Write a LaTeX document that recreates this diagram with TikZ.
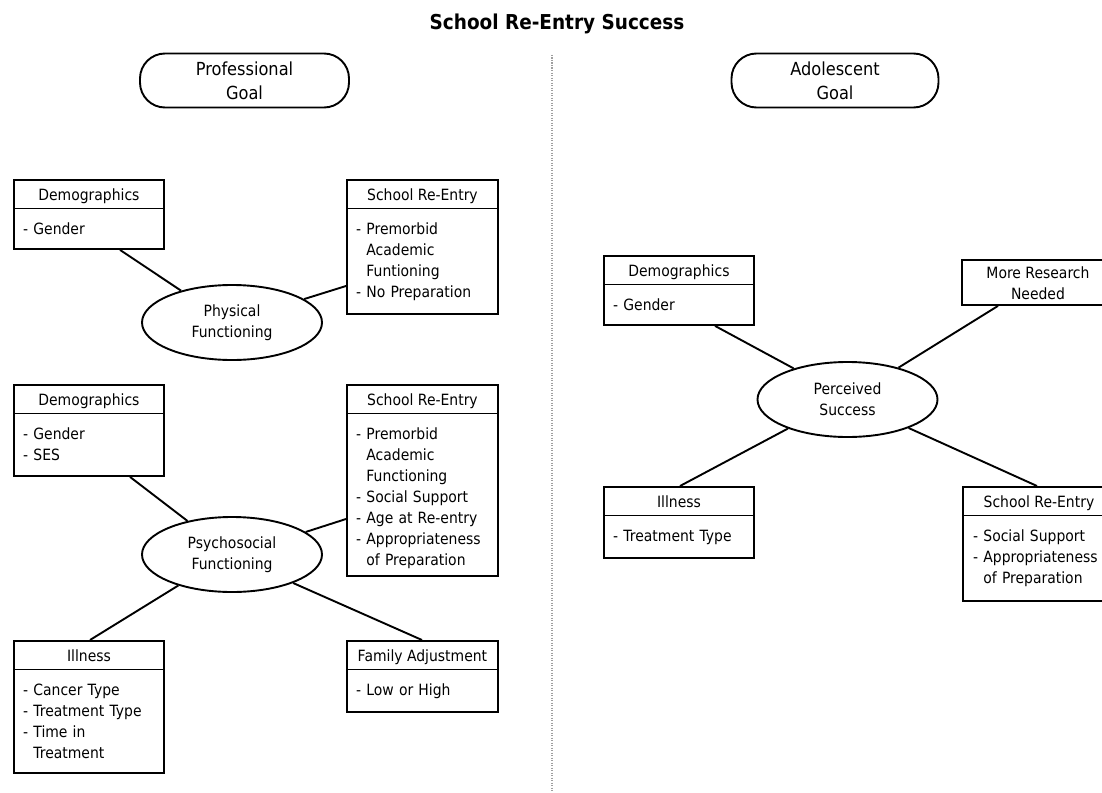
\documentclass[tikz,border=0pt]{standalone}
\usepackage{fontspec}
\setmainfont{DejaVu Sans}[FakeStretch=0.9]
\usetikzlibrary{calc,shapes.geometric}

% header/body box: name, left x, top y, width, height, header text
\newcommand\classbox[6]{%
  \node[umlbox, minimum width=#4pt, minimum height=#5pt] (#1) at (#2,#3) {};
  \draw[boxline] ($(#1.north west)+(0,29.5)$) -- ($(#1.north east)+(0,29.5)$);
  \node[hdr] (#1-head) at ($(#1.north)+(0,21.5)$) {#6};
}
\newcommand\indentline{\hphantom{- }}

\begin{document}
\begin{tikzpicture}[x=1pt,y=-1pt,
  bodyfont/.style={font=\fontsize{15.5}{21}\selectfont},
  boxline/.style={line width=1.9pt},
  umlbox/.style={draw, boxline, rectangle, anchor=north west, inner sep=0pt},
  hdr/.style={bodyfont, anchor=base, inner sep=0pt},
  items/.style={bodyfont, anchor=base west, inner sep=0pt, text width=150pt, align=left},
  hub/.style={draw, boxline, ellipse, minimum width=180pt, minimum height=75pt,
              inner sep=0pt, align=center, bodyfont},
  goal/.style={draw, boxline, rounded corners=25pt, minimum height=54pt,
               inner sep=0pt, align=center, font=\fontsize{18}{24}\selectfont},
  link/.style={line width=1.9pt},
  divider/.style={gray!75, line width=1.6pt, dash pattern=on 1.2pt off 1.3pt},
]
\useasboundingbox (0,0) rectangle (1102,792);
\clip (0,0) rectangle (1102,792);

% title and the dotted separator between the two halves
\node[font=\bfseries\fontsize{20.5}{24}\selectfont, anchor=base] (title) at (557,30) {School Re-Entry Success};
\coordinate (sepTop) at (552,55);
\coordinate (sepBot) at (552,792);
\draw[divider] (sepTop) -- (sepBot);

% goals
\node[goal, minimum width=209pt] (profGoal) at (244.5,80.5) {Professional\\Goal};
\node[goal, minimum width=207pt] (adolGoal) at (835,80.5) {Adolescent\\Goal};

% ---------- professional side: physical functioning ----------
\node[hub] (phys) at (232,322.5) {Physical\\Functioning};

\classbox{demoA}{13}{179}{150}{69}{Demographics}
\node[items] (demoA-list) at ($(demoA.north west)+(10,55)$) {- Gender};

\classbox{schoolA}{346}{179}{151}{134}{School Re-Entry}
\node[items] (schoolA-list) at ($(schoolA.north west)+(10,55)$)
  {- Premorbid\\\indentline Academic\\\indentline Funtioning\\- No Preparation};

\draw[link] ($(demoA.south west)+(107,0)$) -- (phys.148);
\draw[link] ($(schoolA.north west)+(0,107)$) -- (phys.18);

% ---------- professional side: psychosocial functioning ----------
\node[hub] (psych) at (232,554.5) {Psychosocial\\Functioning};

\classbox{demoB}{13}{384}{150}{91}{Demographics}
\node[items] (demoB-list) at ($(demoB.north west)+(10,55)$) {- Gender\\- SES};

\classbox{schoolB}{346}{384}{151}{191}{School Re-Entry}
\node[items] (schoolB-list) at ($(schoolB.north west)+(10,55)$)
  {- Premorbid\\\indentline Academic\\\indentline Functioning\\- Social Support\\- Age at Re-entry\\- Appropriateness\\\indentline of Preparation};

\classbox{illB}{13}{640}{150}{132}{Illness}
\node[items] (illB-list) at ($(illB.north west)+(10,55)$)
  {- Cancer Type\\- Treatment Type\\- Time in\\\indentline Treatment};

\classbox{famB}{346}{640}{151}{71}{Family Adjustment}
\node[items] (famB-list) at ($(famB.north west)+(10,55)$) {- Low or High};

\draw[link] ($(demoB.south west)+(117,0)$) -- (psych.143);
\draw[link] ($(schoolB.north west)+(0,135)$) -- (psych.17);
\draw[link] ($(illB.north west)+(77,0)$) -- (psych.210.4);
\draw[link] ($(famB.north west)+(76,0)$) -- (psych.335.5);

% ---------- adolescent side: perceived success ----------
\node[hub] (perc) at (847.5,399.5) {Perceived\\Success};

\classbox{demoC}{603}{255}{150}{69}{Demographics}
\node[items] (demoC-list) at ($(demoC.north west)+(10,55)$) {- Gender};

\node[umlbox, minimum width=152pt, minimum height=45pt] (research) at (961,259) {};
\node[bodyfont, align=center, inner sep=0pt] (research-text) at ($(research.center)+(0,1)$) {More Research\\Needed};

\classbox{illC}{603}{486}{150}{71}{Illness}
\node[items] (illC-list) at ($(illC.north west)+(10,55)$) {- Treatment Type};

\classbox{schoolC}{962}{486}{152}{114}{School Re-Entry}
\node[items] (schoolC-list) at ($(schoolC.north west)+(11,55)$)
  {- Social Support\\- Appropriateness\\\indentline of Preparation};

\draw[link] ($(demoC.south west)+(112,0)$) -- (perc.150.8);
\draw[link] ($(research.south west)+(37,0)$) -- (perc.32.4);
\draw[link] ($(illC.north west)+(77,0)$) -- (perc.206.4);
\draw[link] ($(schoolC.north west)+(75,0)$) -- (perc.335.1);
\end{tikzpicture}
\end{document}
